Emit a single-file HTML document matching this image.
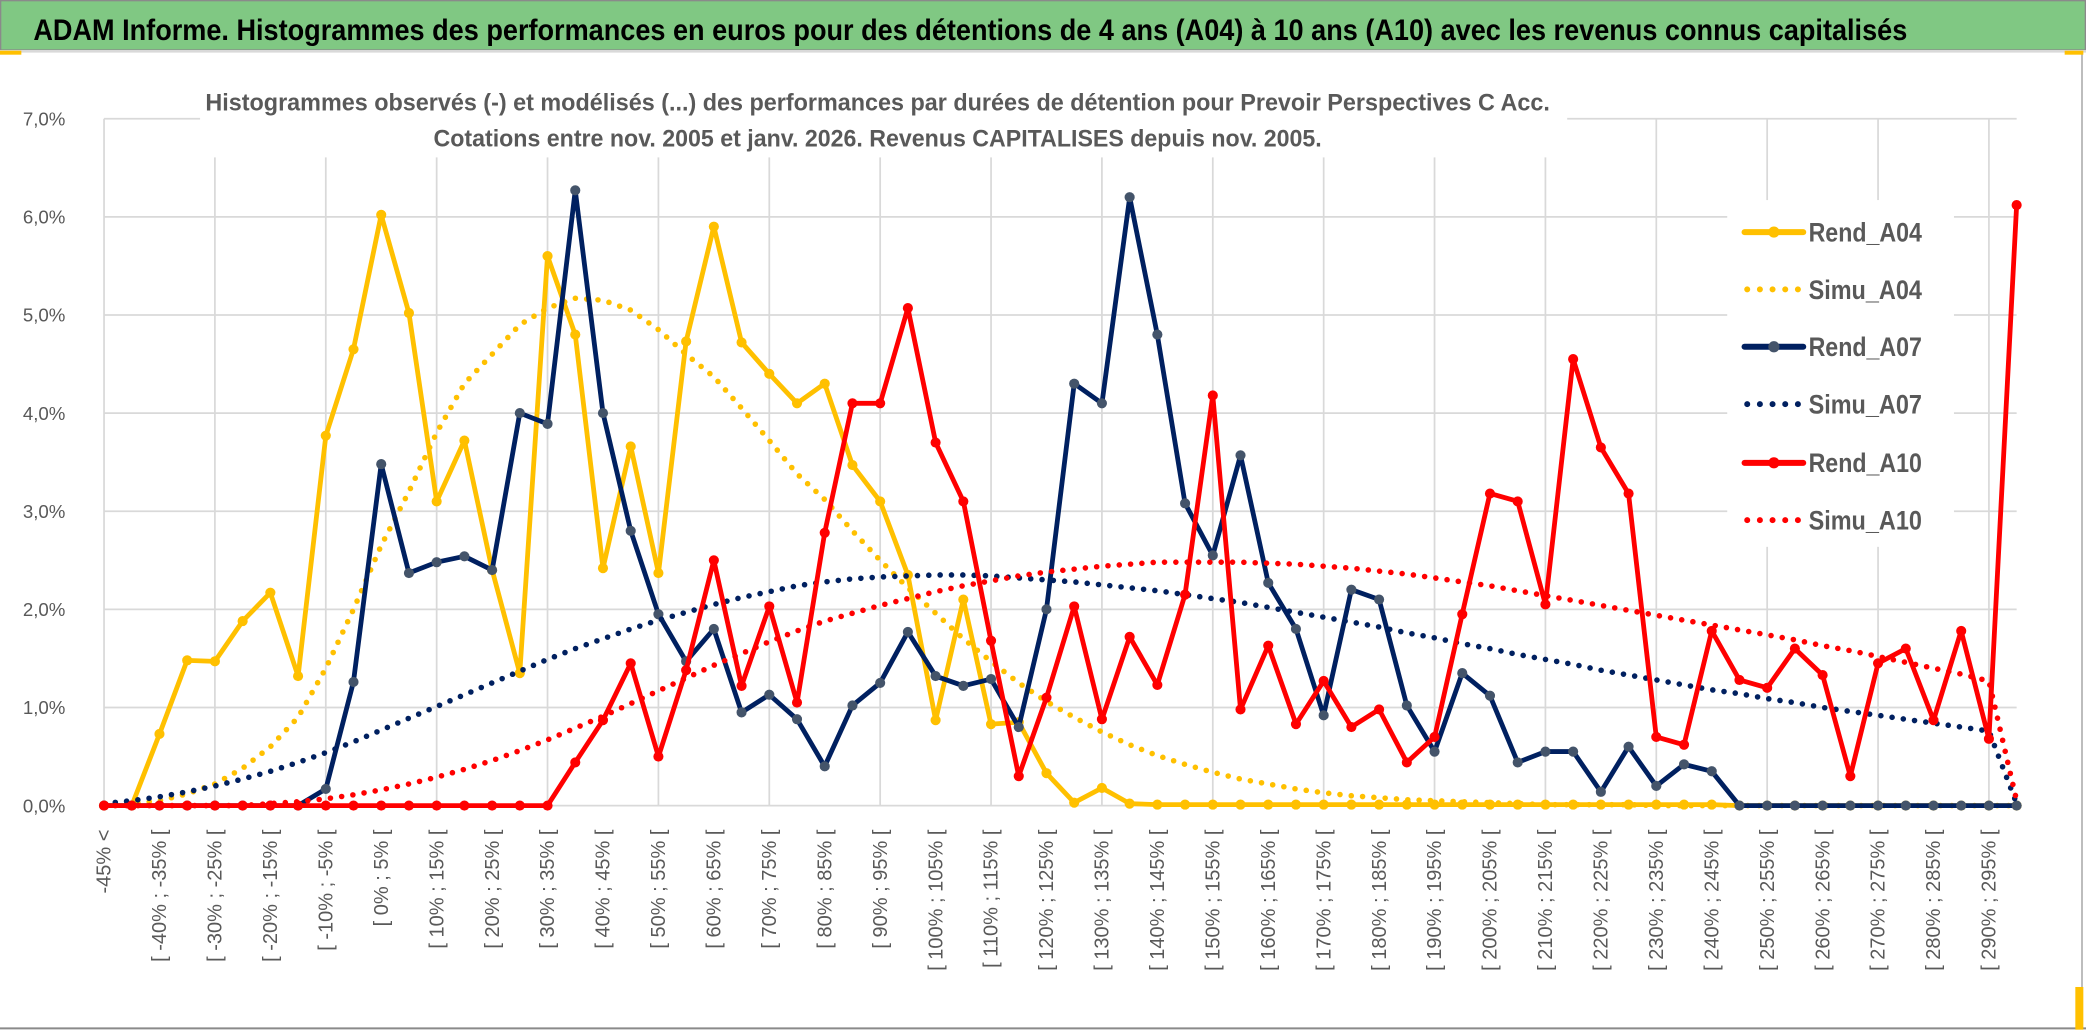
<!DOCTYPE html>
<html><head><meta charset="utf-8"><title>ADAM Informe histogrammes</title>
<style>
html,body{margin:0;padding:0;background:#fff;}
svg{display:block;font-family:"Liberation Sans",sans-serif;}
</style></head>
<body>
<svg id="chart" width="2086" height="1031" viewBox="0 0 1564 773" xmlns="http://www.w3.org/2000/svg">
  <rect x="0" y="0" width="1564" height="773" fill="#fff"/>
  <rect x="0.5" y="0.5" width="1563" height="37" fill="#80C883" stroke="#8a8a8a" stroke-width="1"/>
  <text x="25" y="30" font-size="22" font-weight="bold" fill="#000" textLength="1405" lengthAdjust="spacingAndGlyphs">ADAM Informe. Histogrammes des performances en euros pour des détentions de 4 ans (A04) à 10 ans (A10) avec les revenus connus capitalisés</text>
  <line x1="0" y1="38.5" x2="1564" y2="38.5" stroke="#d9d9d9" stroke-width="2"/>
  <line x1="1561" y1="40" x2="1561" y2="770" stroke="#bdbdbd" stroke-width="1.5"/>
  <line x1="0" y1="771" x2="1564" y2="771" stroke="#8a8a8a" stroke-width="1.5"/>
  <rect x="0" y="38" width="16" height="3" fill="#FFC000"/>
  <rect x="1548" y="38" width="14" height="3" fill="#FFC000"/>
  <rect x="1556" y="740" width="6" height="32" fill="#FFC000"/>
  <g id="grid"></g>
  <g id="yaxis"></g>
  <g id="xaxis"></g>
  <rect x="150" y="52" width="1025" height="66" fill="#fff"/>
  <text x="658" y="83" text-anchor="middle" font-size="18" font-weight="bold" fill="#595959" textLength="1008" lengthAdjust="spacingAndGlyphs">Histogrammes observés (-) et modélisés (...) des performances par durées de détention pour Prevoir Perspectives C Acc.</text>
  <text x="658" y="110" text-anchor="middle" font-size="18" font-weight="bold" fill="#595959" textLength="666" lengthAdjust="spacingAndGlyphs">Cotations entre nov. 2005 et janv. 2026. Revenus CAPITALISES depuis nov. 2005.</text>
  <g id="series"></g>
  <g id="legend"></g>
</svg>
<script>
const rendA04 = [0,0,0.73,1.48,1.47,1.88,2.17,1.32,3.77,4.65,6.02,5.02,3.1,3.72,2.4,1.35,5.6,4.8,2.42,3.66,2.37,4.73,5.9,4.72,4.4,4.1,4.3,3.47,3.1,2.35,0.87,2.1,0.83,0.85,0.33,0.03,0.18,0.02,0.01,0.01,0.01,0.01,0.01,0.01,0.01,0.01,0.01,0.01,0.01,0.01,0.01,0.01,0.01,0.01,0.01,0.01,0.01,0.01,0.01,0,0,0,0,0,0,0,0,0,0,0];
const simuA04 = [0,0.02,0.05,0.12,0.22,0.38,0.6,0.9,1.4,2.0,2.65,3.2,3.8,4.3,4.6,4.9,5.07,5.17,5.15,5.05,4.85,4.6,4.37,4.05,3.72,3.38,3.12,2.8,2.5,2.22,1.96,1.7,1.47,1.25,1.06,0.9,0.75,0.62,0.51,0.42,0.34,0.27,0.22,0.17,0.13,0.1,0.08,0.06,0.05,0.04,0.03,0.02,0.01,0.01,0.01,0.01,0,0,0,0,0,0,0,0,0,0,0,0,0,0];
const rendA07 = [0,0,0,0,0,0,0,0,0.17,1.26,3.48,2.37,2.48,2.54,2.4,4.0,3.89,6.27,4.0,2.8,1.95,1.47,1.8,0.95,1.13,0.88,0.4,1.02,1.25,1.77,1.32,1.22,1.29,0.8,2.0,4.3,4.1,6.2,4.8,3.08,2.55,3.57,2.27,1.8,0.92,2.2,2.1,1.02,0.55,1.35,1.12,0.44,0.55,0.55,0.14,0.6,0.2,0.42,0.35,0,0,0,0,0,0,0,0,0,0,0];
const simuA07 = [0.02,0.05,0.09,0.14,0.2,0.27,0.35,0.44,0.54,0.65,0.77,0.89,1.01,1.13,1.25,1.37,1.49,1.6,1.7,1.8,1.89,1.97,2.05,2.12,2.18,2.24,2.28,2.31,2.33,2.34,2.35,2.35,2.34,2.32,2.3,2.28,2.25,2.22,2.19,2.15,2.11,2.07,2.02,1.97,1.92,1.87,1.82,1.76,1.71,1.65,1.6,1.54,1.49,1.44,1.38,1.33,1.28,1.23,1.18,1.14,1.09,1.05,1.0,0.96,0.92,0.88,0.84,0.8,0.76,0.02];
const rendA10 = [0,0,0,0,0,0,0,0,0,0,0,0,0,0,0,0,0,0.44,0.87,1.45,0.5,1.38,2.5,1.22,2.03,1.05,2.78,4.1,4.1,5.07,3.7,3.1,1.68,0.3,1.1,2.03,0.88,1.72,1.23,2.15,4.18,0.98,1.63,0.83,1.27,0.8,0.98,0.44,0.7,1.95,3.18,3.1,2.05,4.55,3.65,3.18,0.7,0.62,1.78,1.28,1.2,1.6,1.33,0.3,1.45,1.6,0.87,1.78,0.68,6.12];
const simuA10 = [0,0,0,0,0,0,0.02,0.04,0.07,0.11,0.16,0.22,0.29,0.37,0.46,0.56,0.67,0.79,0.91,1.04,1.17,1.3,1.43,1.55,1.67,1.78,1.88,1.96,2.04,2.11,2.18,2.24,2.29,2.34,2.38,2.41,2.44,2.46,2.48,2.48,2.48,2.48,2.47,2.46,2.44,2.42,2.39,2.36,2.32,2.28,2.24,2.19,2.14,2.09,2.04,1.99,1.94,1.89,1.84,1.79,1.74,1.69,1.63,1.58,1.52,1.46,1.4,1.34,1.27,0.05];
const yTicks = [0,1,2,3,4,5,6,7];
const yTickLabels = ["0,0%","1,0%","2,0%","3,0%","4,0%","5,0%","6,0%","7,0%"];
const seriesNames = ["Rend_A04","Simu_A04","Rend_A07","Simu_A07","Rend_A10","Simu_A10"];

// categories: "-45% <", then [ a% ; a+5% [ from -45 to 295
const categories = ["-45% <"];
for (let a = -45; a <= 295; a += 5) categories.push("[ " + a + "% ; " + (a + 5) + "% [");

const NS = "http://www.w3.org/2000/svg";
const X0 = 78, X1 = 1512, Y0 = 604, Y7 = 89;
function xScale(i){ return X0 + i * (X1 - X0) / (categories.length - 1); }
function yScale(v){ return Y0 - v * (Y0 - Y7) / 7; }
function mk(tag, attrs, parent){
  const e = document.createElementNS(NS, tag);
  for (const k in attrs) e.setAttribute(k, attrs[k]);
  parent.appendChild(e);
  return e;
}

const grid = document.getElementById("grid");
const yaxis = document.getElementById("yaxis");
const xaxis = document.getElementById("xaxis");
yTicks.forEach((t, k) => {
  const y = yScale(t);
  const gl = mk("line", {x1: X0, y1: y, x2: X1, y2: y, stroke: "#d9d9d9", "stroke-width": 1.3}, grid);
  
  
  const tl = mk("text", {x: 49, y: y + 5, "text-anchor": "end", "font-size": 14, fill: "#595959"}, yaxis);
  tl.textContent = yTickLabels[k];
  
  
});
for (let i = 0; i < categories.length; i += 4) {
  const x = xScale(i);
  const vl = mk("line", {x1: x, y1: Y7, x2: x, y2: Y0, stroke: "#d9d9d9", "stroke-width": 1.3}, grid);
  
  
}
for (let i = 0; i < categories.length; i += 2) {
  const x = xScale(i) + 5;
  const tl = mk("text", {x: x, y: 622, transform: "rotate(-90 " + x + " 622)", "text-anchor": "end", "font-size": 15, fill: "#595959"}, xaxis);
  tl.textContent = categories[i];
  
  
}

const series = document.getElementById("series");
function pathOf(arr){ return arr.map((v, i) => (i ? "L" : "M") + xScale(i).toFixed(1) + " " + yScale(v).toFixed(1)).join(" "); }
function drawRend(arr, color, marker, name){
  const g = mk("g", {}, series);
  
  
  const p = mk("path", {d: pathOf(arr), fill: "none", stroke: color, "stroke-width": 3.6, "stroke-linejoin": "round"}, g);
  
  
  arr.forEach((v, i) => {
    const c = mk("circle", {cx: xScale(i), cy: yScale(v), r: 3.8, fill: marker}, g);
    
    
  });
}
function drawSimu(arr, color, name){
  const p = mk("path", {d: pathOf(arr), fill: "none", stroke: color, "stroke-width": 4.2, "stroke-linecap": "round", "stroke-dasharray": "0 8.5"}, series);
  
  
}
drawRend(rendA04, "#FFC000", "#FFC000", "rend-a04");
drawSimu(simuA04, "#FFC000", "simu-a04");
drawRend(rendA07, "#002060", "#44546A", "rend-a07");
drawSimu(simuA07, "#002060", "simu-a07");
drawRend(rendA10, "#FF0000", "#FF0000", "rend-a10");
drawSimu(simuA10, "#FF0000", "simu-a10");

// legend
const legend = document.getElementById("legend");
mk("rect", {x: 1295, y: 150, width: 170, height: 260, fill: "#fff"}, legend);
const legColors = ["#FFC000","#FFC000","#002060","#002060","#FF0000","#FF0000"];
const legMarkers = ["#FFC000",null,"#44546A",null,"#FF0000",null];
const legY = [174, 217, 260, 303, 347, 390];
seriesNames.forEach((n, k) => {
  const g = mk("g", {}, legend);
  
  
  const y = legY[k];
  if (legMarkers[k]) {
    mk("line", {x1: 1308, y1: y, x2: 1352, y2: y, stroke: legColors[k], "stroke-width": 4.5, "stroke-linecap": "round"}, g);
    mk("circle", {cx: 1330, cy: y, r: 4.2, fill: legMarkers[k]}, g);
  } else {
    mk("line", {x1: 1310, y1: y, x2: 1352, y2: y, stroke: legColors[k], "stroke-width": 4.5, "stroke-linecap": "round", "stroke-dasharray": "0 9.5"}, g);
  }
  const t = mk("text", {x: 1356, y: y + 7, "font-size": 20, "font-weight": "bold", fill: "#595959", textLength: 85, lengthAdjust: "spacingAndGlyphs"}, g);
  t.textContent = n;
});
</script>
</body></html>
